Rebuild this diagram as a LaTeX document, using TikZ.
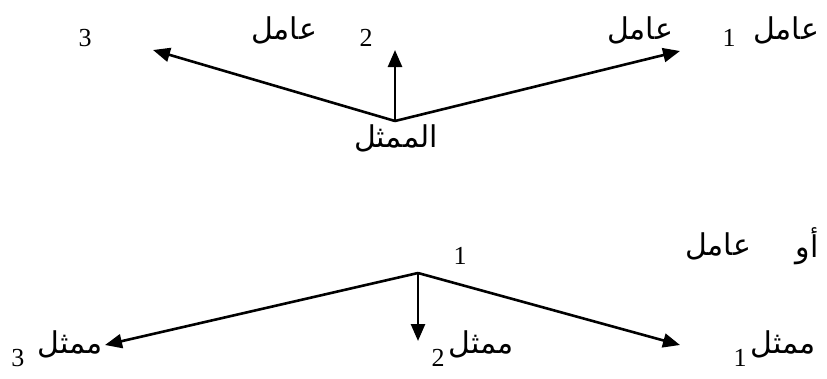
\documentclass[tikz,border=0pt]{standalone}
\usepackage{fontspec}
\setmainfont{Liberation Serif}
\newfontfamily\arabicfont[Script=Arabic]{DejaVu Sans}
\TeXXeTstate=1
\usetikzlibrary{arrows.meta}
\tikzset{
  arw/.style={line width=2.6pt, -{Triangle[length=17pt,width=14pt]}},
  ar/.style={font=\arabicfont\fontsize{30}{36}\selectfont, inner sep=0pt},
  dg/.style={font=\fontsize{26}{30}\selectfont, inner sep=0pt},
}
\begin{document}
\begin{tikzpicture}[x=1pt,y=-1pt]
\useasboundingbox (0,0) rectangle (827,378);
% top diagram
\coordinate (vt) at (395,121);
\coordinate (t3) at (153,50);
\coordinate (t2) at (395,50);
\coordinate (t1) at (680,51);
\node[dg] (n3) at (85,38) {3};
\node[ar] (w3) at (284,30) {\beginR عامل\endR};
\node[dg] (n2) at (366,38) {2};
\node[ar] (w2) at (640,30) {\beginR عامل\endR};
\node[dg] (n1) at (729,38) {1};
\node[ar] (w1) at (786,30) {\beginR عامل\endR};
\node[ar] (mt) at (396,138) {\beginR الممثل\endR};
\draw[arw] (vt) -- (t3);
\draw[arw] (vt) -- (t2);
\draw[arw] (vt) -- (t1);
% bottom diagram
\coordinate (vb) at (418,273);
\coordinate (b3) at (105,345);
\coordinate (b2) at (418,341);
\coordinate (b1) at (680,345);
\node[ar] (ow) at (718,246) {\beginR عامل\endR};
\node[ar] (aw) at (807,246) {\beginR أو\endR};
\node[dg] (bn) at (460,256) {1};
\node[ar] (m3) at (70,344) {\beginR ممثل\endR};
\node[dg] (d3) at (18,358) {3};
\node[ar] (m2) at (481,344) {\beginR ممثل\endR};
\node[dg] (d2) at (438,358) {2};
\node[ar] (m1) at (783,344) {\beginR ممثل\endR};
\node[dg] (d1) at (740,358) {1};
\draw[arw] (vb) -- (b3);
\draw[arw] (vb) -- (b2);
\draw[arw] (vb) -- (b1);
\end{tikzpicture}
\end{document}
